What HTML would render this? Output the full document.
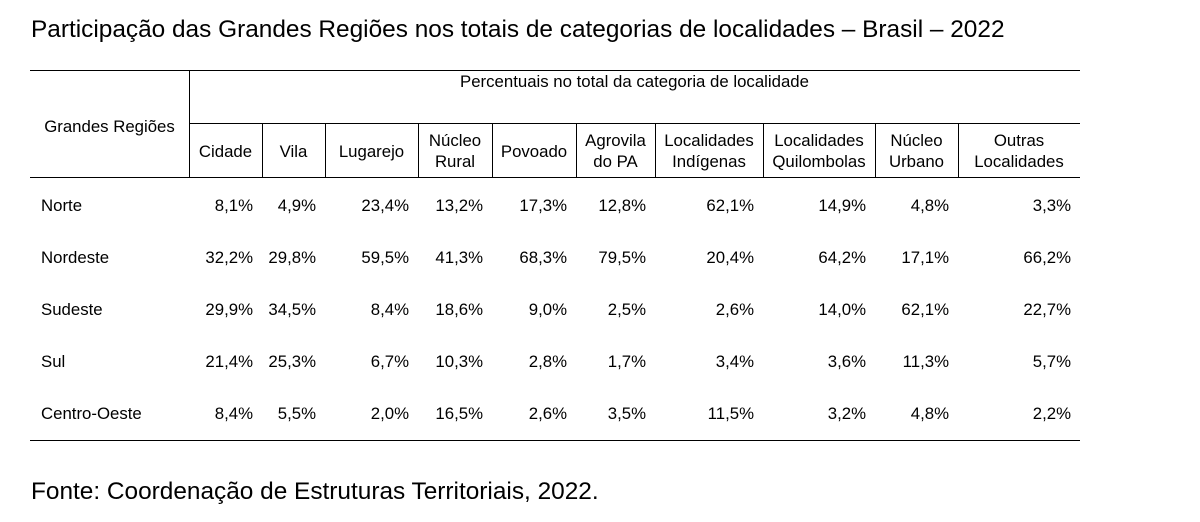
<!DOCTYPE html>
<html><head><meta charset="utf-8"><style>
body{margin:0;width:1200px;height:522px;background:#fff;font-family:"Liberation Sans",Arial,sans-serif;color:#000;position:relative;overflow:hidden}
.a{position:absolute;white-space:nowrap}
.h{position:absolute;background:#000;height:1px}
.v{position:absolute;background:#000;width:1px}
.t{font-size:16.8px;line-height:21px}
.c{text-align:center}
.r{text-align:right}
</style></head><body>
<div class="a" style="left:31px;top:16px;font-size:24.4px;line-height:28px">Participação das Grandes Regiões nos totais de categorias de localidades – Brasil – 2022</div>
<div class="h" style="left:30px;top:70px;width:1050px"></div>
<div class="h" style="left:189px;top:123px;width:891px"></div>
<div class="h" style="left:30px;top:177px;width:1050px"></div>
<div class="h" style="left:30px;top:440px;width:1050px"></div>
<div class="v" style="left:189px;top:70px;height:107px"></div>
<div class="v" style="left:262px;top:123px;height:54px"></div>
<div class="v" style="left:325px;top:123px;height:54px"></div>
<div class="v" style="left:418px;top:123px;height:54px"></div>
<div class="v" style="left:492px;top:123px;height:54px"></div>
<div class="v" style="left:576px;top:123px;height:54px"></div>
<div class="v" style="left:655px;top:123px;height:54px"></div>
<div class="v" style="left:763px;top:123px;height:54px"></div>
<div class="v" style="left:875px;top:123px;height:54px"></div>
<div class="v" style="left:958px;top:123px;height:54px"></div>
<div class="a t c" style="left:189px;width:891px;top:71px">Percentuais no total da categoria de localidade</div>
<div class="a t c" style="left:30px;width:159px;top:116px">Grandes Regiões</div>
<div id="hdr"></div>
<div id="body"></div>
<div class="a" style="left:31px;top:478px;font-size:24.4px;line-height:28px">Fonte: Coordenação de Estruturas Territoriais, 2022.</div>
<script>
var cols=[[189,262],[262,325],[325,418],[418,492],[492,576],[576,655],[655,763],[763,875],[875,958],[958,1080]];
var hd=["Cidade","Vila","Lugarejo","Núcleo<br>Rural","Povoado","Agrovila<br>do PA","Localidades<br>Indígenas","Localidades<br>Quilombolas","Núcleo<br>Urbano","Outras<br>Localidades"];
var h="";
cols.forEach(function(c,i){var two=hd[i].indexOf("<br>")>0;
h+='<div class="a t c" style="left:'+c[0]+'px;width:'+(c[1]-c[0])+'px;top:'+(two?130:141)+'px">'+hd[i]+'</div>';});
document.getElementById("hdr").outerHTML=h;
var rows=[["Norte","8,1%","4,9%","23,4%","13,2%","17,3%","12,8%","62,1%","14,9%","4,8%","3,3%"],
["Nordeste","32,2%","29,8%","59,5%","41,3%","68,3%","79,5%","20,4%","64,2%","17,1%","66,2%"],
["Sudeste","29,9%","34,5%","8,4%","18,6%","9,0%","2,5%","2,6%","14,0%","62,1%","22,7%"],
["Sul","21,4%","25,3%","6,7%","10,3%","2,8%","1,7%","3,4%","3,6%","11,3%","5,7%"],
["Centro-Oeste","8,4%","5,5%","2,0%","16,5%","2,6%","3,5%","11,5%","3,2%","4,8%","2,2%"]];
var b="";
rows.forEach(function(r,j){var y=195+j*52;
b+='<div class="a t" style="left:41px;top:'+y+'px">'+r[0]+'</div>';
cols.forEach(function(c,i){b+='<div class="a t r" style="left:'+c[0]+'px;width:'+(c[1]-c[0]-9)+'px;top:'+y+'px">'+r[i+1]+'</div>';});});
document.getElementById("body").outerHTML=b;
</script>
</body></html>
